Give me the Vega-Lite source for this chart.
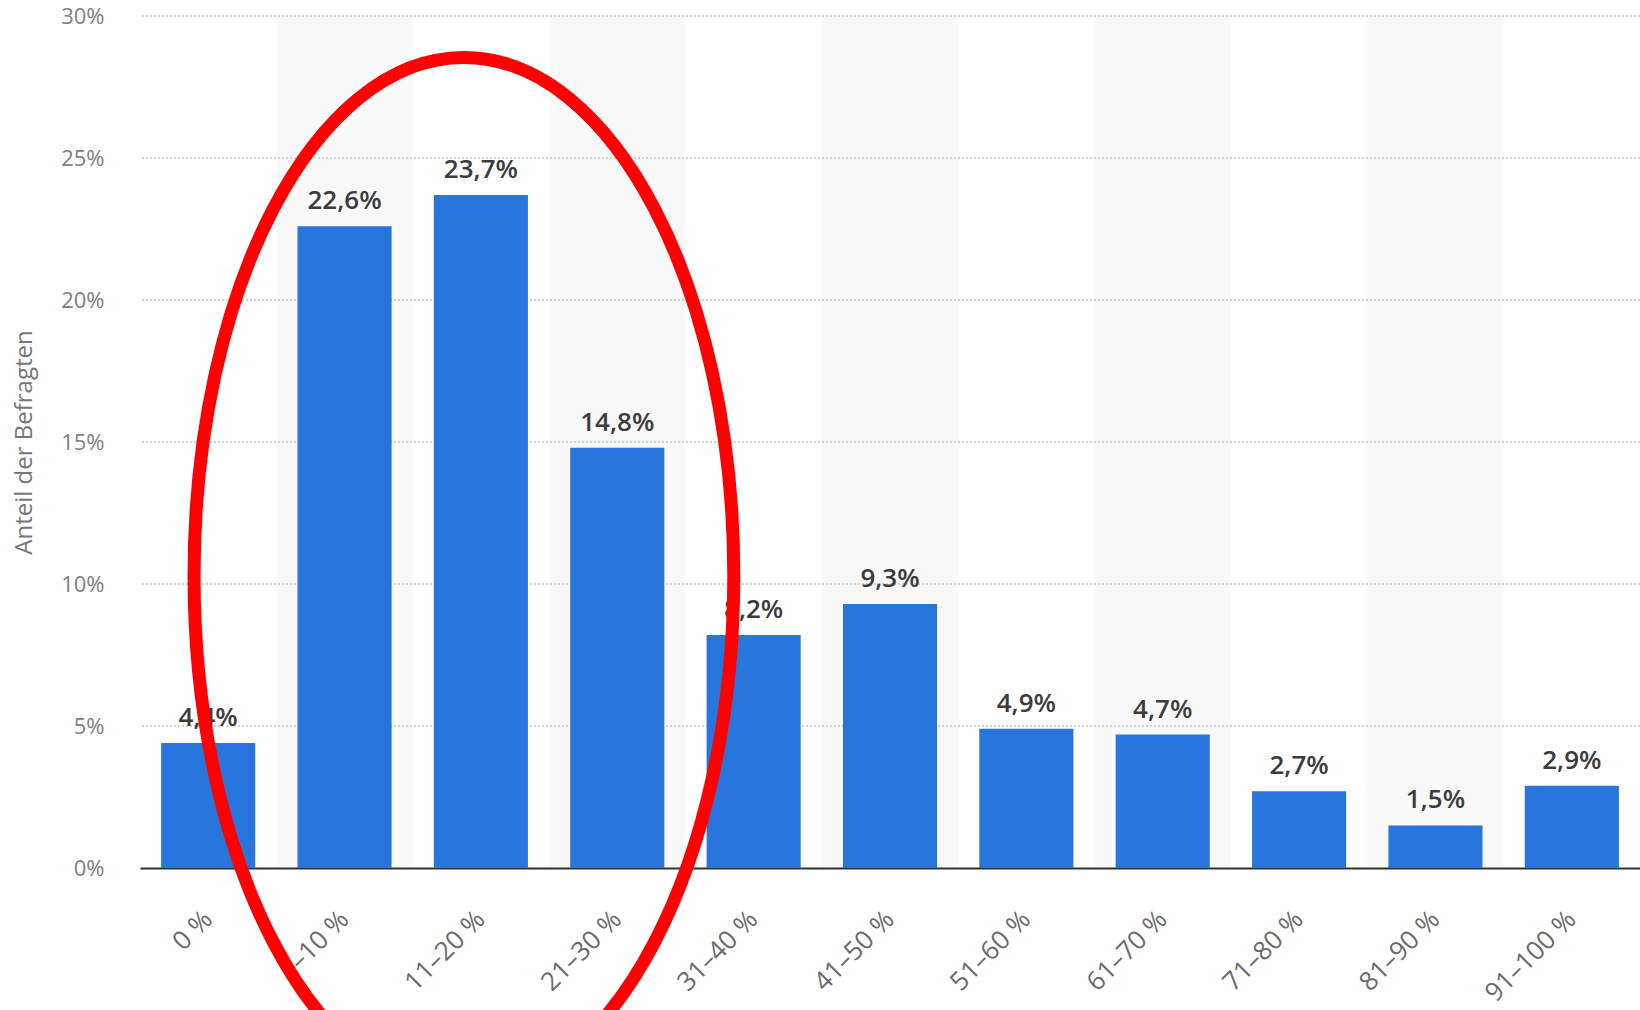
{
  "$schema": "https://vega.github.io/schema/vega-lite/v6.json",
  "autosize": "none",
  "width": 1500,
  "height": 852,
  "padding": {"left": 140, "top": 16, "right": 0, "bottom": 142},
  "background": "#ffffff",
  "config": {
    "font": "Open Sans",
    "view": {"stroke": null},
    "locale": {"number": {"decimal": ",", "thousands": ".", "grouping": [3], "currency": ["", " €"]}}
  },
  "datasets": {
    "survey": [
      {"category": "0 %", "value": 0.044},
      {"category": "1–10 %", "value": 0.226},
      {"category": "11–20 %", "value": 0.237},
      {"category": "21–30 %", "value": 0.148},
      {"category": "31–40 %", "value": 0.082},
      {"category": "41–50 %", "value": 0.093},
      {"category": "51–60 %", "value": 0.049},
      {"category": "61–70 %", "value": 0.047},
      {"category": "71–80 %", "value": 0.027},
      {"category": "81–90 %", "value": 0.015},
      {"category": "91–100 %", "value": 0.029}
    ],
    "bands": [
      {"category": "1–10 %"},
      {"category": "21–30 %"},
      {"category": "41–50 %"},
      {"category": "61–70 %"},
      {"category": "81–90 %"}
    ],
    "gridlines": [
      {"level": 0.05},
      {"level": 0.1},
      {"level": 0.15},
      {"level": 0.2},
      {"level": 0.25},
      {"level": 0.3}
    ],
    "highlight": [
      {"category": "11–20 %", "value": 0.103}
    ]
  },
  "layer": [
    {
      "data": {"name": "bands"},
      "mark": {"type": "bar", "color": "#000000", "opacity": 0.025, "width": {"band": 1}},
      "encoding": {
        "x": {
          "field": "category",
          "type": "nominal",
          "sort": null,
          "scale": {
            "domain": ["0 %", "1–10 %", "11–20 %", "21–30 %", "31–40 %", "41–50 %", "51–60 %", "61–70 %", "71–80 %", "81–90 %", "91–100 %"],
            "paddingInner": 0,
            "paddingOuter": 0
          },
          "axis": {
            "title": null,
            "labelAngle": -45,
            "labelAlign": "right",
            "labelBaseline": "middle",
            "labelFontSize": 26,
            "labelColor": "#6b6b6b",
            "labelPadding": 47,
            "ticks": false,
            "domainColor": "#333333",
            "domainWidth": 2,
            "grid": false
          }
        },
        "y": {
          "datum": 0.3,
          "type": "quantitative",
          "scale": {"domain": [0, 0.3], "nice": false},
          "axis": {
            "title": "Anteil der Befragten",
            "titleFontSize": 24,
            "titleFontWeight": "normal",
            "titleColor": "#777777",
            "titlePadding": 24,
            "values": [0, 0.05, 0.1, 0.15, 0.2, 0.25, 0.3],
            "format": ".0%",
            "labelFontSize": 22,
            "labelColor": "#808080",
            "labelPadding": 36,
            "ticks": false,
            "domain": false,
            "grid": false
          }
        },
        "y2": {"datum": 0}
      }
    },
    {
      "data": {"name": "gridlines"},
      "mark": {"type": "rule", "color": "#c4c4c4", "strokeDash": [2, 2], "strokeWidth": 1.5},
      "encoding": {
        "y": {"field": "level", "type": "quantitative"}
      }
    },
    {
      "data": {"name": "survey"},
      "mark": {"type": "bar", "color": "#2876dc", "width": {"band": 0.69}},
      "encoding": {
        "x": {"field": "category", "type": "nominal", "sort": null},
        "y": {"field": "value", "type": "quantitative"}
      }
    },
    {
      "data": {"name": "survey"},
      "mark": {"type": "text", "fontSize": 26, "fontWeight": 600, "color": "#3c3c3c", "baseline": "alphabetic", "dy": -17},
      "encoding": {
        "x": {"field": "category", "type": "nominal", "sort": null},
        "y": {"field": "value", "type": "quantitative"},
        "text": {"field": "value", "type": "quantitative", "format": ".1%"}
      }
    },
    {
      "data": {"name": "highlight"},
      "mark": {
        "type": "point",
        "shape": "M 0,-1 C 0.2877,-1 0.521,-0.5523 0.521,0 C 0.521,0.5523 0.2877,1 0,1 C -0.2877,1 -0.521,0.5523 -0.521,0 C -0.521,-0.5523 -0.2877,-1 0,-1 Z",
        "size": 1073296,
        "filled": false,
        "stroke": "#ff0000",
        "strokeWidth": 13,
        "opacity": 1,
        "xOffset": -17
      },
      "encoding": {
        "x": {"field": "category", "type": "nominal", "sort": null},
        "y": {"field": "value", "type": "quantitative"}
      }
    }
  ]
}
